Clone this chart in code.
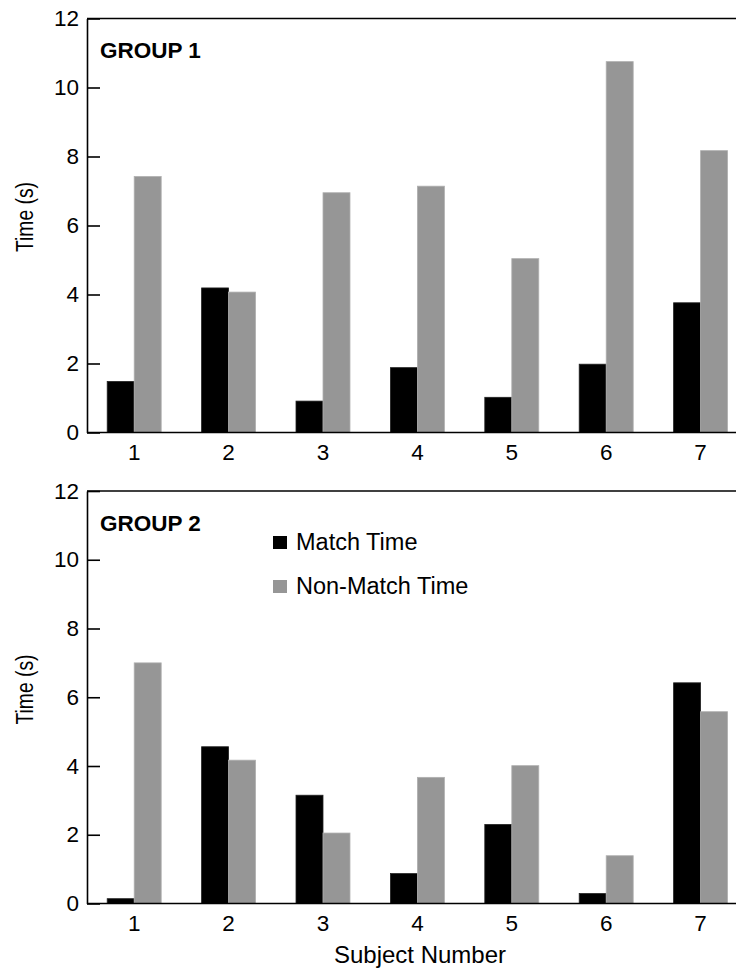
<!DOCTYPE html>
<html>
<head>
<meta charset="utf-8">
<script src="https://cdn.jsdelivr.net/npm/d3@7"></script>
<style>
  body { margin: 0; background: #fff; }
  svg { font-family: "Liberation Sans", Arial, sans-serif; }
</style>
</head>
<body>
<div id="chart"></div>
<script>
// data
var subjects = ["1", "2", "3", "4", "5", "6", "7"];
var seriesNames = ["Match Time", "Non-Match Time"];
var g1Match = [1.48, 4.19, 0.91, 1.88, 1.02, 1.98, 3.76];
var g1NonMatch = [7.42, 4.07, 6.95, 7.14, 5.04, 10.75, 8.17];
var g2Match = [0.14, 4.56, 3.15, 0.87, 2.3, 0.29, 6.42];
var g2NonMatch = [7.0, 4.17, 2.05, 3.67, 4.01, 1.39, 5.58];
var yTicks = [0, 2, 4, 6, 8, 10, 12];

var width = 736;
var height = 972;
var colors = ["#000000", "#969696"];
var fontSize = 22.5;

var svg = d3
  .select("#chart")
  .append("svg")
  .attr("width", width)
  .attr("height", height);

// x is the same for both panels, plot runs off the right edge like the original
var left = 87;
var step = 94.4;
var x = d3
  .scaleBand()
  .domain(subjects)
  .range([left, left + step * subjects.length])
  .paddingInner(0.428)
  .paddingOuter(0.214);

var xs = d3
  .scaleBand()
  .domain(seriesNames)
  .range([0, x.bandwidth()]);

var panels = [
  { name: "GROUP 1", top: 18.5, bottom: 432.5, match: g1Match, non: g1NonMatch, legend: false },
  { name: "GROUP 2", top: 491, bottom: 903.5, match: g2Match, non: g2NonMatch, legend: true }
];

panels.forEach(function(p) {
  var y = d3
    .scaleLinear()
    .domain([0, 12])
    .range([p.bottom, p.top]);

  var g = svg.append("g");

  // bars
  var rows = subjects.map(function(s, i) {
    return { subject: s, values: [p.match[i], p.non[i]] };
  });

  var grp = g
    .selectAll(".grp")
    .data(rows)
    .enter()
    .append("g")
    .attr("transform", d => "translate(" + x(d.subject) + ",0)");

  grp
    .selectAll("rect")
    .data(d => d.values.map((v, j) => ({ key: seriesNames[j], value: v, j: j })))
    .enter()
    .append("rect")
    .attr("x", d => xs(d.key))
    .attr("y", d => y(d.value))
    .attr("width", xs.bandwidth())
    .attr("height", d => p.bottom - y(d.value))
    .style("fill", d => colors[d.j])
    .style("stroke", d => (d.j === 0 ? "#222" : "#b0b0b0"))
    .style("stroke-width", 0.8);

  // box: top line + left axis + bottom axis
  g.append("line")
    .attr("x1", left)
    .attr("x2", width)
    .attr("y1", p.top)
    .attr("y2", p.top)
    .style("stroke", "#000")
    .style("stroke-width", 1.6);

  var yAxis = d3
    .axisLeft(y)
    .tickValues(yTicks)
    .tickSizeInner(-13)
    .tickSizeOuter(0)
    .tickPadding(8)
    .tickFormat(d3.format("d"));

  var ya = g
    .append("g")
    .attr("transform", "translate(" + left + ",0)")
    .call(yAxis);
  ya.select(".domain").style("stroke-width", 1.6);
  ya.selectAll("line").style("stroke-width", 1.6);
  ya.selectAll("text")
    .style("font-size", fontSize + "px")
    .attr("fill", "#000");

  var xAxis = d3
    .axisBottom(x)
    .tickSize(0)
    .tickPadding(12);

  var xa = g
    .append("g")
    .attr("transform", "translate(0," + p.bottom + ")")
    .call(xAxis);
  xa.select(".domain")
    .attr("d", "M" + left + ",0H" + width)
    .style("stroke-width", 1.6);
  xa.selectAll("text")
    .style("font-size", fontSize + "px")
    .attr("fill", "#000");

  // group label
  g.append("text")
    .attr("x", 100)
    .attr("y", p.top + 39.5)
    .style("font-size", fontSize + "px")
    .style("font-weight", "bold")
    .text(p.name);

  // y title (squeezed along its length, as in the original)
  g.append("text")
    .attr("transform", "translate(33," + (p.top + 198.5) + ") rotate(-90)")
    .attr("text-anchor", "middle")
    .attr("textLength", 70)
    .attr("lengthAdjust", "spacingAndGlyphs")
    .style("font-size", "23px")
    .text("Time (s)");

  if (p.legend) {
    var leg = g
      .selectAll(".leg")
      .data(seriesNames)
      .enter()
      .append("g")
      .attr("transform", (d, i) => "translate(273," + (p.top + 45 + i * 44) + ")");
    leg
      .append("rect")
      .attr("width", 14)
      .attr("height", 13)
      .style("fill", (d, i) => colors[i]);
    leg
      .append("text")
      .attr("x", 23)
      .attr("y", 14)
      .style("font-size", "23.5px")
      .text(d => d);
  }
});

// x title
svg
  .append("text")
  .attr("x", 420)
  .attr("y", 963)
  .attr("text-anchor", "middle")
  .style("font-size", "24px")
  .text("Subject Number");
</script>
</body>
</html>
